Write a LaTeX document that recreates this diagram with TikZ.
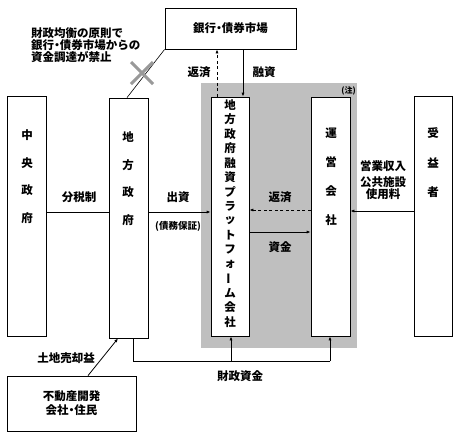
\documentclass[tikz,border=0pt]{standalone}
\usepackage{fontspec}
\setmainfont{Noto Sans CJK JP}
\newfontfamily\pjfont{Noto Sans CJK JP}[RawFeature=+palt]
\newcommand{\nakaguro}{{\pjfont\bfseries ・}}
\usetikzlibrary{arrows.meta}
\begin{document}
\begin{tikzpicture}[x=1pt,y=-1pt,
  font=\fontsize{11.5}{13}\selectfont\bfseries,
  box/.style={draw,line width=0.8pt,fill=white,inner sep=0pt},
  lab/.style={inner sep=0pt},
  conn/.style={line width=0.8pt},
  arr/.style={conn,-{Latex[length=4pt,width=3.2pt]}},
  darr/.style={arr,dash pattern=on 3pt off 2.5pt},
  cross/.style={line width=3pt,draw=black!40}]
\useasboundingbox (0,0) rectangle (460,440);
% gray area
\node[draw=none,fill=black!25,minimum width=156pt,minimum height=265pt,inner sep=0pt] (gray) at (279,215.5) {};
\node[lab,font=\fontsize{8}{9}\selectfont\bfseries,anchor=east] (note) at (356,91) {(注)};
% boxes
\node[box,minimum width=39pt,minimum height=240pt] (cg) at (26.5,216) {};
\node[box,minimum width=39pt,minimum height=240pt] (lg) at (128.5,218) {};
\node[box,minimum width=131pt,minimum height=41pt] (bank) at (230.5,28.5) {};
\node[box,minimum width=38pt,minimum height=239pt] (pf) at (230,216.5) {};
\node[box,minimum width=39pt,minimum height=239pt] (op) at (330.5,216.5) {};
\node[box,minimum width=38pt,minimum height=240pt] (ben) at (433,216) {};
\node[box,minimum width=129pt,minimum height=55pt] (re) at (71.5,403.5) {};
% box texts
\node[lab] (banktxt) at (bank.center) {銀行\nakaguro 債券市場};
\node[lab,align=center] (retxt) at (re.center) {不動産開発\\[1pt]会社\nakaguro 住民};
\foreach \c [count=\i] in {中,央,政,府} \node[lab] (cgt\i) at (27,{135+(\i-1)*27.7}) {\c};
\foreach \c [count=\i] in {地,方,政,府} \node[lab] (lgt\i) at (128,{137+(\i-1)*27.7}) {\c};
\foreach \c [count=\i] in {運,営,会,社} \node[lab] (opt\i) at (331,{133+(\i-1)*29}) {\c};
\foreach \c [count=\i] in {受,益,者} \node[lab] (bent\i) at (433,{133+(\i-1)*29.5}) {\c};
\foreach \c [count=\i] in {地,方,政,府,融,資,プ,ラ,ッ,ト,フ,ォ,{\rotatebox{90}{ー}},ム,会,社}
  \node[lab] (pft\i) at (230,{105+(\i-1)*14.47}) {\c};
% helper coordinates
\coordinate (y210) at (0,210);
\coordinate (y211) at (0,211);
\coordinate (y212) at (0,212);
\coordinate (y232) at (0,232);
\coordinate (x88) at (88,0);
\coordinate (x118) at (118,0);
\coordinate (x127) at (127,0);
\coordinate (x133) at (133,0);
\coordinate (x217) at (217,0);
\coordinate (x243) at (243,0);
\coordinate (x231) at (231,0);
\coordinate (x330) at (330,0);
\coordinate (fl) at (133,361);
\coordinate (fm) at (231,361);
\coordinate (fr) at (330,361);
% connectors
\draw[conn] (cg.east |- y212) -- (lg.west |- y212);
\draw[arr] (lg.east |- y212) -- (pf.west |- y212);
\draw[arr] (bank.south -| x243) -- (pf.north -| x243);
\draw[darr] (pf.north -| x217) -- (bank.south -| x217);
\draw[darr] (op.west |- y210) -- (pf.east |- y210);
\draw[arr] (pf.east |- y232) -- (op.west |- y232);
\draw[arr] (ben.west |- y211) -- (op.east |- y211);
\draw[conn] (lg.south -| x133) -- (fl) -- (fr);
\draw[arr] (fr) -- (op.south -| x330);
\draw[arr] (fm) -- (pf.south -| x231);
\draw[arr] (re.north -| x88) -- (lg.south -| x118);
\draw[conn,line width=0.6pt] (bank.south west) -- (lg.north -| x127);
\coordinate (xc) at (142,73);
\draw[cross] ([shift={(-11,-11)}]xc) -- ([shift={(11,11)}]xc);
\draw[cross] ([shift={(-11,11)}]xc) -- ([shift={(11,-11)}]xc);
% labels
\node[lab] (l1) at (79,197) {分税制};
\node[lab] (l2) at (178,197) {出資};
\node[lab,font=\fontsize{9.5}{11}\selectfont\bfseries] (l3) at (178,226) {(債務保証)};
\node[lab] (l4) at (199,72) {返済};
\node[lab] (l5) at (264,72) {融資};
\node[lab] (l6) at (280,197) {返済};
\node[lab] (l7) at (280,247) {資金};
\node[lab,align=center] (l8) at (383,180) {営業収入\\[3pt]公共施設\\[-1pt]使用料};
\node[lab] (l9) at (240,376) {財政資金};
\node[lab] (l10) at (66,358) {土地売却益};
\node[lab,align=left,anchor=north west] (l11) at (31,27) {財政均衡の原則で\\[-1pt]銀行\nakaguro 債券市場からの\\[-1pt]資金調達が禁止};
\end{tikzpicture}
\end{document}
